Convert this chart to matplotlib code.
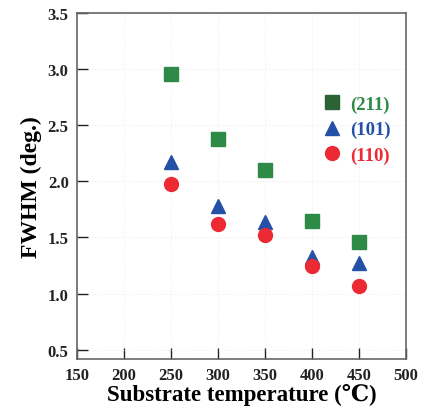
import matplotlib.pyplot as plt
from matplotlib.lines import Line2D

# 데이터
temps = [250, 300, 350, 400, 450]
fwhm_211 = [2.95, 2.38, 2.10, 1.65, 1.46]
fwhm_101 = [2.17, 1.78, 1.64, 1.33, 1.27]
fwhm_110 = [1.98, 1.62, 1.52, 1.25, 1.07]

green = '#2e8a47'
blue = '#2450a8'
red = '#ec2a33'

plt.rcParams['font.family'] = ['Liberation Serif', 'DejaVu Serif']
plt.rcParams['font.weight'] = 'bold'

fig = plt.figure(figsize=(4.22, 4.10), dpi=100)
ax = fig.add_axes([0.1825, 0.122, 0.7795, 0.845])

ax.plot(temps, fwhm_211, 's', color=green, markersize=10.5, linestyle='none')
ax.plot(temps, fwhm_101, '^', color=blue, markersize=10, linestyle='none')
ax.plot(temps, fwhm_110, 'o', color=red, markersize=10, linestyle='none')

ax.set_xlim(150, 500)
ax.set_ylim(0.42, 3.5)
ax.set_xticks(range(150, 501, 50))
ax.set_yticks([0.5, 1.0, 1.5, 2.0, 2.5, 3.0, 3.5])
ax.set_yticklabels(['0.5', '1.0', '1.5', '2.0', '2.5', '3.0', '3.5'])
ax.tick_params(direction='in', length=8, width=1, labelsize=12, colors='#222222')
ax.tick_params(axis='x', pad=6)
ax.tick_params(axis='y', pad=6)
for s in ax.spines.values():
    s.set_color('#666666')
    s.set_linewidth(1.2)

# 아주 옅은 점선 격자
ax.grid(True, linestyle=':', color='#eeeeee', linewidth=0.8)

ax.set_xlabel('Substrate temperature (℃)', fontsize=16.5, fontweight='bold', labelpad=0)
ax.set_ylabel('FWHM (deg.)', fontsize=17, fontweight='bold', labelpad=4)

handles = [
    Line2D([], [], marker='s', color='#2b6236', linestyle='none', markersize=10.5),
    Line2D([], [], marker='^', color=blue, linestyle='none', markersize=10),
    Line2D([], [], marker='o', color=red, linestyle='none', markersize=10),
]
leg = ax.legend(handles, ['(211)', '(101)', '(110)'], loc='upper left',
                bbox_to_anchor=(0.695, 0.81), frameon=False,
                handlelength=1.0, handletextpad=0.45, labelspacing=0.45,
                labelcolor=[green, blue, red], prop={'weight': 'bold', 'size': 13.5})

fig.savefig('out.png', dpi=100)
